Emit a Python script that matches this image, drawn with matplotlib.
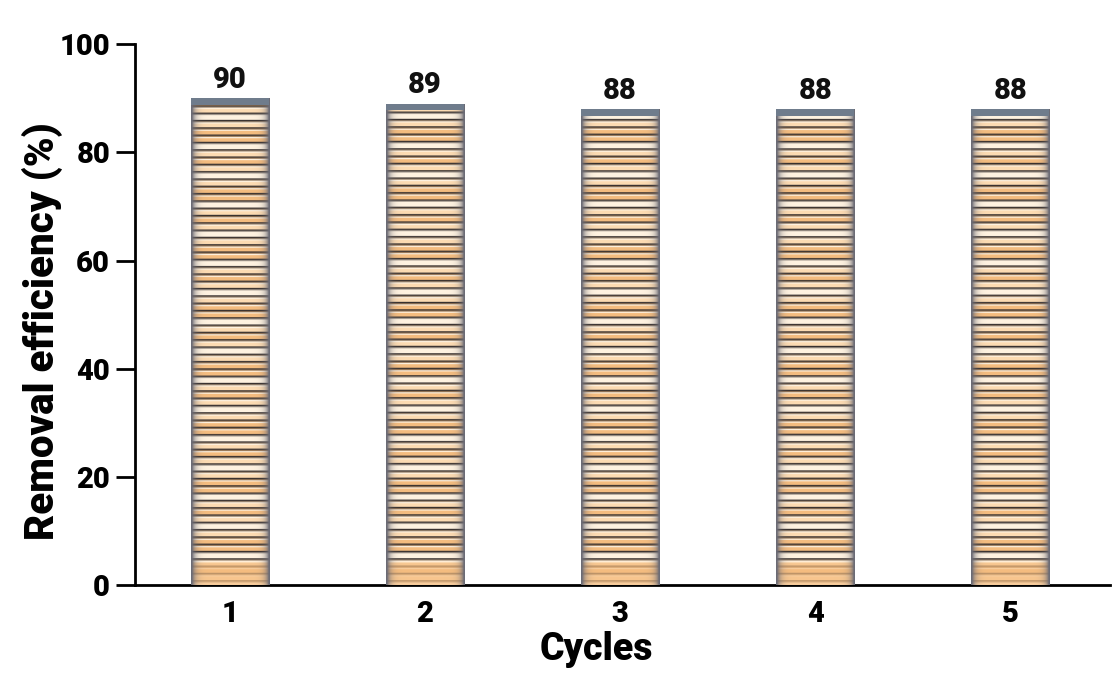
import numpy as np
import matplotlib
matplotlib.use("Agg")
import matplotlib.pyplot as plt

plt.rcParams['font.family'] = ['Roboto', 'DejaVu Sans']
plt.rcParams['font.weight'] = 'heavy'

cycles = [1, 2, 3, 4, 5]
efficiency = [90, 89, 88, 88, 88]

fig = plt.figure(figsize=(11.13, 6.9), dpi=100)
ax = fig.add_axes([0.1213, 0.152, 0.876, 0.784])

bar_w = 0.4
bars = ax.bar(cycles, efficiency, width=bar_w, color='#f3c08f', edgecolor='none', zorder=2)

# striped texture: peach / cream bands separated by thin dark lines
n_rows = 400
tex = np.zeros((n_rows, 40, 3))
peach = np.array([0.96, 0.74, 0.50])
light = np.array([0.99, 0.86, 0.70])
cream = np.array([1.0, 0.95, 0.88])
dark = np.array([0.22, 0.19, 0.18])
xs = np.linspace(-1, 1, 40)
edge = np.clip(np.abs(xs) ** 10, 0, 1)[None, :, None]
grey = np.array([0.42, 0.42, 0.46])
band_cycle = [peach, light, cream, light, peach, peach, cream, light]
for i in range(n_rows):
    phase = i % 6
    base = band_cycle[(i // 6) % len(band_cycle)]
    if phase in (0, 1):
        c = dark if phase == 0 else dark * 0.5 + base * 0.5
    elif phase == 2:
        c = cream
    else:
        c = base
    tex[i, :, :] = c
tex[-18:, :, :] = tex[-18:, :, :] * 0.3 + peach * 0.7
tex = tex * (1 - edge) + grey * edge

for b in bars:
    x0 = b.get_x()
    h = b.get_height()
    img = tex[-int(n_rows * h / 90):]
    im = ax.imshow(img, extent=(x0, x0 + bar_w, 0, h), aspect='auto',
                   interpolation='bilinear', zorder=3)
    im.set_clip_path(b)
    ax.bar(b.get_x() + bar_w / 2, 1.2, bottom=h - 1.2, width=bar_w,
           color='#6f7c8c', zorder=4)
    ax.text(b.get_x() + bar_w / 2, h + 0.8, f"{h:.0f}", ha='center', va='bottom',
            fontsize=21, fontweight='heavy', color='#111111')

ax.set_xlim(0.515, 5.51)
ax.set_ylim(0, 100)
ax.set_yticks([0, 20, 40, 60, 80, 100])
ax.set_xticks(cycles)
ax.tick_params(axis='y', labelsize=21, width=2, length=14, pad=4)
ax.tick_params(axis='x', labelsize=21, length=0, pad=11)
for lab in ax.get_xticklabels() + ax.get_yticklabels():
    lab.set_fontweight('heavy')

ax.spines['top'].set_visible(False)
ax.spines['right'].set_visible(False)
ax.spines['left'].set_linewidth(2)
ax.spines['bottom'].set_linewidth(2)

ax.set_xlabel('Cycles', fontsize=27, fontweight='heavy')
ax.xaxis.set_label_coords(0.473, -0.085)
ax.set_ylabel('Removal efficiency (%)', fontsize=29, fontweight='heavy')
ax.yaxis.set_label_coords(-0.074, 0.47)

fig.savefig('out.png', dpi=100)
